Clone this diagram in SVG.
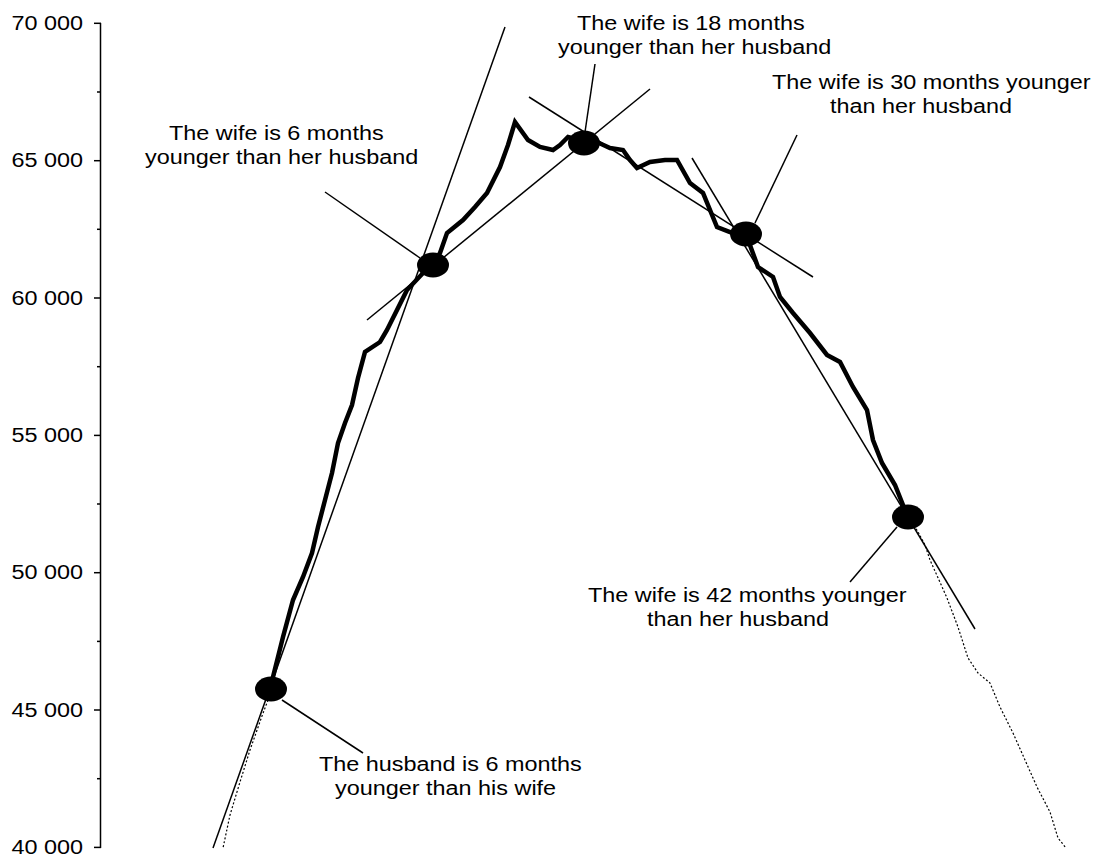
<svg xmlns="http://www.w3.org/2000/svg" width="1098" height="856" viewBox="0 0 1098 856">
<style>
  text { font-family: "Liberation Sans", Arial, sans-serif; font-size: 19.5px; fill: #000; }
  .ax { text-anchor: end; }
  .axis, .tick, .thin { stroke: #000; stroke-width: 1.5; fill: none; }
  .curve { stroke: #000; stroke-width: 4.5; fill: none; stroke-linejoin: miter; stroke-miterlimit: 3; }
  .dot { stroke: #000; stroke-width: 1.2; stroke-dasharray: 2 2; fill: none; }
  .node { fill: #000; }
</style>
<rect width="1098" height="856" fill="#fff"/>
<g id="axis">
  <line class="axis" x1="100.5" y1="23" x2="100.5" y2="848"/>
  <g class="tick">
    <line x1="94" y1="23.3" x2="101" y2="23.3"/>
    <line x1="97" y1="92" x2="101" y2="92"/>
    <line x1="94" y1="160.7" x2="101" y2="160.7"/>
    <line x1="97" y1="229.3" x2="101" y2="229.3"/>
    <line x1="94" y1="298" x2="101" y2="298"/>
    <line x1="97" y1="366.7" x2="101" y2="366.7"/>
    <line x1="94" y1="435.4" x2="101" y2="435.4"/>
    <line x1="97" y1="504" x2="101" y2="504"/>
    <line x1="94" y1="572.7" x2="101" y2="572.7"/>
    <line x1="97" y1="641.4" x2="101" y2="641.4"/>
    <line x1="94" y1="710" x2="101" y2="710"/>
    <line x1="97" y1="778.7" x2="101" y2="778.7"/>
    <line x1="94" y1="847.4" x2="101" y2="847.4"/>
  </g>
  <text class="ax" x="83" y="30" textLength="71.6" lengthAdjust="spacingAndGlyphs">70 000</text>
  <text class="ax" x="83" y="167.2" textLength="71.6" lengthAdjust="spacingAndGlyphs">65 000</text>
  <text class="ax" x="83" y="304.5" textLength="71.6" lengthAdjust="spacingAndGlyphs">60 000</text>
  <text class="ax" x="83" y="441.9" textLength="71.6" lengthAdjust="spacingAndGlyphs">55 000</text>
  <text class="ax" x="83" y="579.2" textLength="71.6" lengthAdjust="spacingAndGlyphs">50 000</text>
  <text class="ax" x="83" y="716.5" textLength="71.6" lengthAdjust="spacingAndGlyphs">45 000</text>
  <text class="ax" x="83" y="853.9" textLength="71.6" lengthAdjust="spacingAndGlyphs">40 000</text>
</g>
<g id="connectors">
  <line class="thin" x1="213" y1="848" x2="505" y2="27"/>
  <line class="thin" x1="367" y1="320" x2="650" y2="89"/>
  <line class="thin" x1="529" y1="97" x2="813" y2="277"/>
  <line class="thin" x1="692" y1="158" x2="975" y2="629"/>
  <line class="thin" x1="325" y1="192" x2="420" y2="258"/>
  <line class="thin" x1="595" y1="64" x2="585" y2="132"/>
  <line class="thin" x1="797" y1="135" x2="755" y2="223"/>
  <line class="thin" x1="897" y1="527" x2="850" y2="582"/>
  <line class="thin" x1="282" y1="700" x2="363" y2="753"/>
  <polyline class="dot" points="268,700 262,716 250,750 240,782 230,815 223,848"/>
  <polyline class="dot" points="912,522 918,532 925,545 930,560 939,580 947,598 958,627 968,658 978,673 990,683 1000,707 1013,733 1025,760 1037,787 1050,812 1058,838 1066,848"/>
  <polyline class="curve" points="271,689 273,677 283,637 293,600 303,577 312,553 318,527 325,500 332,473 338,443 345,423 352,405 358,378 365,352 380,342 387,330 397,310 407,290 423,273 432,265 440,253 447,233 463,220 475,207 487,193 500,167 508,145 515,122 528,140 540,147 553,150 560,145 568,137 580,140 590,140 597,142 610,148 623,150 630,160 637,168 650,162 665,160 677,160 690,183 703,193 717,227 730,232 747,237 758,267 773,277 780,297 793,313 810,333 827,355 840,362 853,387 867,410 873,440 882,463 895,485 903,505 908,517"/>
</g>
<g id="p1">
  <ellipse class="node" cx="271" cy="689" rx="16" ry="12.5"/>
  <text x="319" y="771" textLength="262.7" lengthAdjust="spacingAndGlyphs">The husband is 6 months</text>
  <text x="335" y="795" textLength="221.1" lengthAdjust="spacingAndGlyphs">younger than his wife</text>
</g>
<g id="p2">
  <ellipse class="node" cx="433" cy="265" rx="16" ry="12.5"/>
  <text x="169" y="139.5" textLength="214.6" lengthAdjust="spacingAndGlyphs">The wife is 6 months</text>
  <text x="145" y="163.5" textLength="273.2" lengthAdjust="spacingAndGlyphs">younger than her husband</text>
</g>
<g id="p3">
  <ellipse class="node" cx="584" cy="143" rx="16" ry="12.5"/>
  <text x="577" y="29.5" textLength="227.6" lengthAdjust="spacingAndGlyphs">The wife is 18 months</text>
  <text x="558" y="53.5" textLength="273.2" lengthAdjust="spacingAndGlyphs">younger than her husband</text>
</g>
<g id="p4">
  <ellipse class="node" cx="746" cy="234" rx="16" ry="12.5"/>
  <text x="772" y="88.5" textLength="318.6" lengthAdjust="spacingAndGlyphs">The wife is 30 months younger</text>
  <text x="830" y="112.5" textLength="182.1" lengthAdjust="spacingAndGlyphs">than her husband</text>
</g>
<g id="p5">
  <ellipse class="node" cx="908" cy="517" rx="16" ry="12.5"/>
  <text x="588" y="601.5" textLength="318.6" lengthAdjust="spacingAndGlyphs">The wife is 42 months younger</text>
  <text x="647" y="625.5" textLength="182.1" lengthAdjust="spacingAndGlyphs">than her husband</text>
</g>
</svg>
